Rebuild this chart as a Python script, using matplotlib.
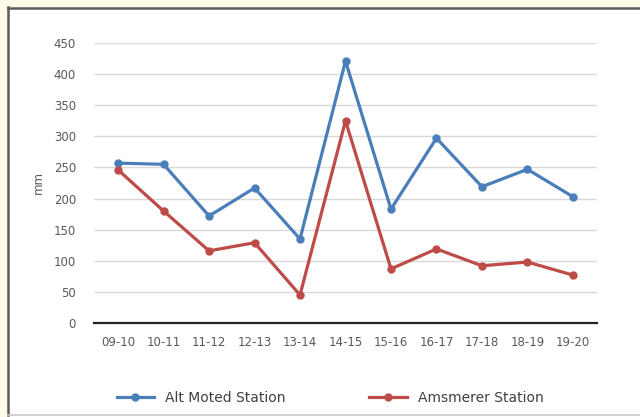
import matplotlib.pyplot as plt
from matplotlib.patches import Rectangle
from matplotlib.lines import Line2D

seasons = ['09-10', '10-11', '11-12', '12-13', '13-14', '14-15',
           '15-16', '16-17', '17-18', '18-19', '19-20']
alt_moted = [257, 255, 172, 217, 135, 421, 183, 297, 219, 247, 203]
amsmerer = [246, 180, 116, 129, 45, 325, 87, 119, 92, 98, 77]
y_ticks = [0, 50, 100, 150, 200, 250, 300, 350, 400, 450]

W, H = 640, 417
fig = plt.figure(figsize=(6.4, 4.17), dpi=100, facecolor='#fffbea')

# white chart box with a dark frame on the left/top
fig.patches.append(Rectangle((7 / W, 0), 1, (417 - 7) / H, transform=fig.transFigure,
                             facecolor='white', edgecolor='none', zorder=-5))
fig.add_artist(Line2D([7.5 / W, 7.5 / W], [1 - 7 / H, 1 - 415 / H], color='#5a5a5a', lw=1.8, zorder=-4))
fig.add_artist(Line2D([7.5 / W, 1], [1 - 7.5 / H, 1 - 7.5 / H], color='#5a5a5a', lw=1.8, zorder=-4))
fig.add_artist(Line2D([7.5 / W, 1], [1 - 415 / H, 1 - 415 / H], color='#c8c8c8', lw=1.2, zorder=-4))

ax = fig.add_axes([94 / W, 94 / H, (597 - 94) / W, (374 - 94) / H])
ax.set_facecolor('none')
x = range(len(seasons))
ax.plot(x, alt_moted, '-o', color='#4a7ebb', lw=2.3, markersize=5, label='Alt Moted Station', zorder=3)
ax.plot(x, amsmerer, '-o', color='#be4b48', lw=2.3, markersize=5, label='Amsmerer Station', zorder=3)

ax.set_xlim(-0.53, len(seasons) - 0.47)
ax.set_ylim(0, 450)
ax.set_yticks(y_ticks)
ax.set_xticks(list(x))
ax.set_xticklabels(seasons)
ax.grid(axis='y', color='#d9d9d9', lw=1)
ax.set_axisbelow(True)
for s in ['top', 'right', 'left']:
    ax.spines[s].set_visible(False)
ax.spines['bottom'].set_color('#222222')
ax.spines['bottom'].set_linewidth(1.6)
ax.tick_params(length=0, labelsize=8.5, labelcolor='#595959', pad=9)
ax.tick_params(axis='y', pad=13)
ax.set_ylabel('mm', fontsize=8.5, color='#595959', labelpad=6)

fig.legend(loc='center', bbox_to_anchor=(330 / W, 19 / H), ncol=2, frameon=False,
           fontsize=10, handlelength=2.7, columnspacing=6, labelcolor='#404040')

fig.savefig('out.png', dpi=100, facecolor=fig.get_facecolor())
